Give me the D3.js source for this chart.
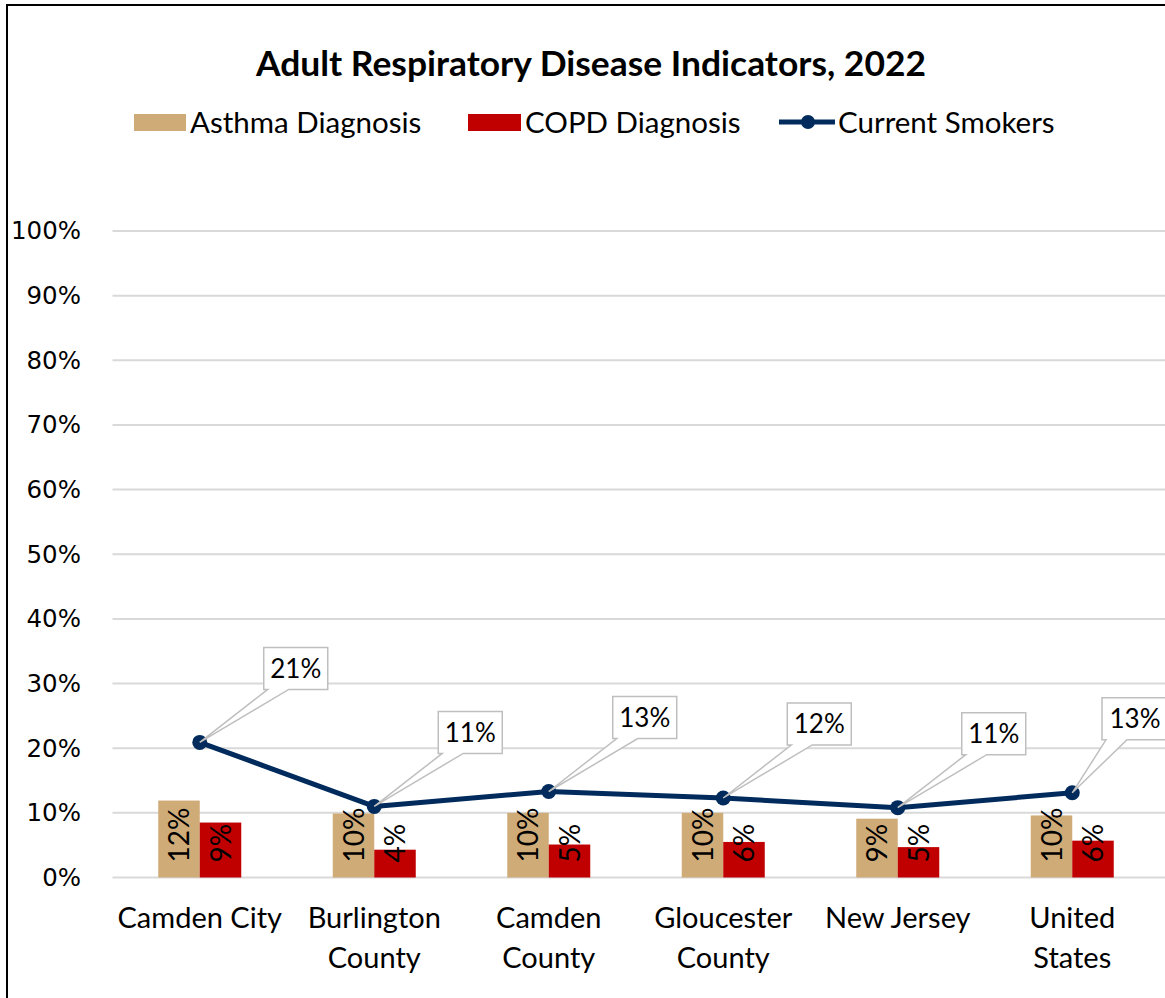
<!DOCTYPE html>
<html><head><meta charset="utf-8">
<script src="https://cdn.jsdelivr.net/npm/d3@7"></script>
<style>html,body{margin:0;padding:0;background:#fff;}svg{display:block;}</style>
</head><body>
<svg id="chart" width="1165" height="998"></svg>
<script>
const categories = [["Camden City"], ["Burlington", "County"], ["Camden", "County"], ["Gloucester", "County"], ["New Jersey"], ["United", "States"]];
const asthma = [11.9, 9.9, 10.0, 10.0, 9.1, 9.6];
const copd = [8.5, 4.3, 5.1, 5.5, 4.7, 5.7];
const smokers = [20.9, 11.0, 13.3, 12.3, 10.8, 13.1];
const yTicks = [0, 10, 20, 30, 40, 50, 60, 70, 80, 90, 100];
const seriesNames = ["Asthma Diagnosis", "COPD Diagnosis", "Current Smokers"];
const title = "Adult Respiratory Disease Indicators, 2022";

const colors = {asthma: "#CFAB78", copd: "#C00000", line: "#002B5C", grid: "#D9D9D9", callout: "#BFBFBF"};
const FONT = "Lato, 'Open Sans', sans-serif";
const svg = d3.select("#chart");

// frame
svg.append("rect").attr("x", 7).attr("y", 5).attr("width", 1200).attr("height", 1100)
  .attr("fill", "none").attr("stroke", "#000").attr("stroke-width", 2);

const x0 = 112.5, bandW = 174.5;
const keys = categories.map((d, i) => i);
const x = d3.scaleBand().domain(keys).range([x0, x0 + bandW * keys.length]).paddingInner(0).paddingOuter(0);
const y = d3.scaleLinear().domain([0, 100]).range([877.5, 231]);
const barW = 41.5;

// gridlines
svg.append("g").selectAll("line").data(yTicks).join("line")
  .attr("x1", x0).attr("x2", 1165).attr("y1", d => y(d)).attr("y2", d => y(d))
  .attr("stroke", colors.grid).attr("stroke-width", 2);

// y axis labels
const yAxis = d3.axisLeft(y).tickValues(yTicks).tickFormat(d => d + "%").tickSize(0).tickPadding(0);
const yg = svg.append("g").attr("transform", "translate(81,0)").call(yAxis);
yg.select(".domain").remove();
yg.selectAll("text").attr("font-family", "'DejaVu Sans', sans-serif").attr("font-size", 24.5).attr("fill", "#000");

// bars
const cx = i => x(i) + x.bandwidth() / 2;
svg.append("g").selectAll("rect").data(asthma).join("rect")
  .attr("x", (d, i) => cx(i) - barW).attr("width", barW)
  .attr("y", d => y(d)).attr("height", d => y(0) - y(d)).attr("fill", colors.asthma);
svg.append("g").selectAll("rect").data(copd).join("rect")
  .attr("x", (d, i) => cx(i)).attr("width", barW)
  .attr("y", d => y(d)).attr("height", d => y(0) - y(d)).attr("fill", colors.copd);

// bar labels (rotated)
function barLabels(data, offset) {
  svg.append("g").selectAll("text").data(data).join("text")
    .attr("transform", (d, i) => `translate(${cx(i) + offset},${y(0) - 15}) rotate(-90)`)
    .attr("font-family", FONT).attr("font-size", 28).attr("fill", "#000")
    .attr("text-anchor", "start")
    .text(d => Math.round(d) + "%");
}
barLabels(asthma, -barW / 2 + 10);
barLabels(copd, barW / 2 + 10);

// line
const line = d3.line().x((d, i) => cx(i)).y(d => y(d));
svg.append("path").datum(smokers).attr("d", line).attr("fill", "none")
  .attr("stroke", colors.line).attr("stroke-width", 5).attr("stroke-linejoin", "round");
svg.append("g").selectAll("circle").data(smokers).join("circle")
  .attr("cx", (d, i) => cx(i)).attr("cy", d => y(d)).attr("r", 7.5).attr("fill", colors.line);

// callouts
const bw = 64, bh = 42, dx = 64, dy = -95, maxBx = 1102;
const bxOf = i => Math.min(cx(i) + dx, maxBx);
const cg = svg.append("g").selectAll("g").data(smokers).join("g");
cg.append("path").attr("d", (d, i) => {
  const px = cx(i), py = y(d), bx = bxOf(i), by = py + dy;
  return `M${bx},${by}H${bx + bw}V${by + bh}H${bx + 25}L${px},${py}L${bx + 4},${by + bh}H${bx}Z`;
}).attr("fill", "#fff").attr("stroke", colors.callout).attr("stroke-width", 1.5);
cg.append("text").attr("x", (d, i) => bxOf(i) + bw / 2 + (bxOf(i) === maxBx ? 1 : 0)).attr("y", d => y(d) + dy + bh / 2)
  .attr("dy", "0.36em").attr("text-anchor", "middle")
  .attr("font-family", FONT).attr("font-size", 26).attr("fill", "#000")
  .text(d => Math.round(d) + "%");

// x labels
const xl = svg.append("g").selectAll("text").data(categories).join("text")
  .attr("x", (d, i) => cx(i)).attr("y", 928).attr("text-anchor", "middle")
  .attr("font-family", FONT).attr("font-size", 29).attr("fill", "#000");
xl.selectAll("tspan").data(d => d).join("tspan")
  .attr("x", function() { return d3.select(this.parentNode).attr("x"); })
  .attr("dy", (d, j) => j === 0 ? 0 : 40).text(d => d);

// title
svg.append("text").attr("x", 591).attr("y", 76).attr("text-anchor", "middle")
  .attr("font-family", FONT).attr("font-weight", "bold").attr("font-size", 34).attr("fill", "#000")
  .attr("textLength", 670).attr("lengthAdjust", "spacingAndGlyphs")
  .text(title);

// legend
const lg = svg.append("g").attr("font-family", FONT).attr("font-size", 29.5);
lg.append("rect").attr("x", 134).attr("y", 114).attr("width", 52).attr("height", 17).attr("fill", colors.asthma);
lg.append("text").attr("x", 190).attr("y", 133).text(seriesNames[0]);
lg.append("rect").attr("x", 468).attr("y", 114).attr("width", 53).attr("height", 17).attr("fill", colors.copd);
lg.append("text").attr("x", 525).attr("y", 133).text(seriesNames[1]);
lg.append("line").attr("x1", 779).attr("x2", 835).attr("y1", 122).attr("y2", 122).attr("stroke", colors.line).attr("stroke-width", 5);
lg.append("circle").attr("cx", 808).attr("cy", 122).attr("r", 7).attr("fill", colors.line);
lg.append("text").attr("x", 838).attr("y", 133).text(seriesNames[2]);
</script>
</body></html>
